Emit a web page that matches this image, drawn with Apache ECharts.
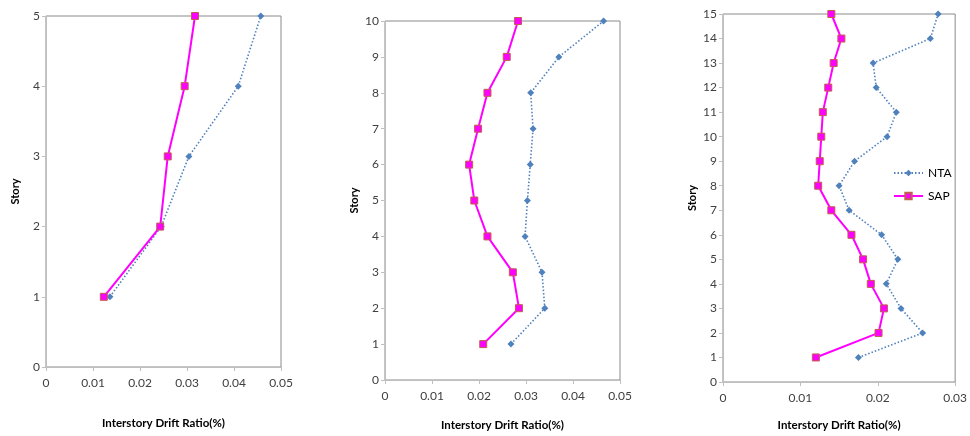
<!DOCTYPE html>
<html>
<head>
<meta charset="utf-8">
<script src="https://cdn.jsdelivr.net/npm/echarts@6/dist/echarts.min.js"></script>
<style>
html,body{margin:0;padding:0;background:#fff;}
#chart{width:970px;height:436px;}
</style>
</head>
<body>
<div id="chart"></div>
<script>
// Panel 1: 5-story
const stories1 = [1, 2, 3, 4, 5];
const nta1 = [0.0136, 0.0245, 0.0304, 0.0409, 0.0457];
const sap1 = [0.0123, 0.0243, 0.0259, 0.0295, 0.0317];
// Panel 2: 10-story
const stories2 = [1, 2, 3, 4, 5, 6, 7, 8, 9, 10];
const nta2 = [0.0268, 0.0340, 0.0334, 0.0298, 0.0303, 0.0309, 0.0315, 0.0310, 0.0370, 0.0465];
const sap2 = [0.0209, 0.0285, 0.0272, 0.0218, 0.0190, 0.0179, 0.0198, 0.0218, 0.0259, 0.0283];
// Panel 3: 15-story
const stories3 = [1, 2, 3, 4, 5, 6, 7, 8, 9, 10, 11, 12, 13, 14, 15];
const nta3 = [0.0175, 0.0258, 0.0230, 0.0211, 0.0226, 0.0205, 0.0163, 0.0150, 0.0170, 0.0212, 0.0224, 0.0198, 0.0194, 0.0268, 0.0278];
const sap3 = [0.0120, 0.0201, 0.0208, 0.0191, 0.0181, 0.0166, 0.0140, 0.0123, 0.0125, 0.0127, 0.0129, 0.0136, 0.0143, 0.0153, 0.0140];

const xTitle = 'Interstory Drift Ratio(%)';
const yTitle = 'Story';
const seriesNames = ['NTA', 'SAP'];

const FONT = 'Lato';
const chart = echarts.init(document.getElementById('chart'), null, {renderer: 'canvas'});

const grids = [
  {left: 46, top: 16, width: 235, height: 351},
  {left: 385, top: 21, width: 235, height: 361},
  {left: 723, top: 14, width: 235, height: 370}
];
const xMax = [0.05, 0.05, 0.03];
const yMax = [5, 10, 15];
const xNameGap = [50, 39, 37];
const panels = [
  {s: stories1, n: nta1, p: sap1},
  {s: stories2, n: nta2, p: sap2},
  {s: stories3, n: nta3, p: sap3}
];

const axisLineStyle = {color: '#bfbfbf', width: 1};
const labelStyle = {fontFamily: FONT, fontSize: 12, color: '#404040'};

const xAxes = [], yAxes = [], series = [];
grids.forEach((g, i) => {
  g.show = true;
  g.borderColor = '#8a8a8a';
  g.borderWidth = 1;
  g.backgroundColor = 'transparent';
  xAxes.push({
    type: 'value', gridIndex: i, min: 0, max: xMax[i], interval: 0.01,
    name: xTitle, nameLocation: 'middle', nameGap: xNameGap[i],
    nameTextStyle: {fontFamily: FONT, fontSize: 11.5, fontWeight: 'bold', color: '#000'},
    axisLine: {show: true, onZero: false, lineStyle: axisLineStyle},
    axisTick: {show: true, length: 4, lineStyle: axisLineStyle},
    axisLabel: Object.assign({margin: 10, formatter: v => v === 0 ? '0' : (+v.toFixed(2)).toString()}, labelStyle),
    splitLine: {show: false}
  });
  yAxes.push({
    type: 'value', gridIndex: i, min: 0, max: yMax[i], interval: 1,
    name: yTitle, nameLocation: 'middle', nameGap: 25, nameRotate: 90,
    nameTextStyle: {fontFamily: FONT, fontSize: 11, fontWeight: 'bold', color: '#000'},
    axisLine: {show: true, onZero: false, lineStyle: axisLineStyle},
    axisTick: {show: true, length: 4, lineStyle: axisLineStyle},
    axisLabel: Object.assign({margin: 6}, labelStyle),
    splitLine: {show: false}
  });
  const P = panels[i];
  series.push({
    name: seriesNames[0], type: 'line', xAxisIndex: i, yAxisIndex: i,
    data: P.s.map((st, k) => [P.n[k], st]),
    symbol: 'diamond', symbolSize: 7, showSymbol: true,
    lineStyle: {color: '#4f81bd', width: 1.6, type: [1.5, 2]},
    itemStyle: {color: '#4f81bd'},
    z: 2, animation: false
  });
  series.push({
    name: seriesNames[1], type: 'line', xAxisIndex: i, yAxisIndex: i,
    data: P.s.map((st, k) => [P.p[k], st]),
    symbol: 'rect', symbolSize: 7, showSymbol: true,
    lineStyle: {color: '#ff00ff', width: 2},
    itemStyle: {color: '#ff00ff', borderColor: '#c0604d', borderWidth: 1},
    z: 3, animation: false
  });
});

chart.setOption({
  animation: false,
  backgroundColor: '#fff',
  grid: grids,
  xAxis: xAxes,
  yAxis: yAxes,
  legend: {
    orient: 'vertical', left: 888, top: 162,
    itemWidth: 29, itemHeight: 8, itemGap: 11,
    textStyle: {fontFamily: FONT, fontSize: 12, color: '#000'},
    data: seriesNames
  },
  series: series
});
</script>
</body>
</html>
